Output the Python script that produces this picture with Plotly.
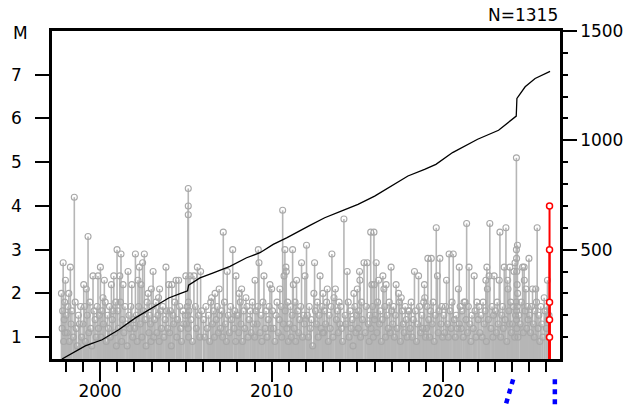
import plotly.graph_objects as go

# ---------------------------------------------------------------- data
# Larger, individually readable events (decimal year, magnitude)
big_year = [
    1997.75, 1997.85, 1997.98, 1998.18, 1998.27, 1998.50, 1999.05, 1999.20, 1999.30, 1999.59,
    1999.88, 2000.02, 2000.17, 2000.25, 2000.66, 2000.80, 2000.99, 2001.15, 2001.22, 2001.34,
    2001.63, 2001.85, 2002.06, 2002.21, 2002.29, 2002.39, 2002.48, 2002.58, 2002.80, 2002.99,
    2003.09, 2003.41, 2003.47, 2003.84, 2004.00, 2004.19, 2004.43, 2004.58, 2005.00, 2005.14,
    2005.14, 2005.14, 2005.24, 2005.47, 2005.67, 2005.86, 2006.50, 2006.70, 2006.94, 2007.18,
    2007.41, 2007.73, 2007.92, 2008.11, 2008.25, 2008.50, 2009.03, 2009.22, 2009.26, 2009.55,
    2009.90, 2010.00, 2010.48, 2010.64, 2010.72, 2010.77, 2010.83, 2010.85, 2011.22, 2011.26,
    2011.45, 2011.74, 2011.94, 2012.03, 2012.46, 2012.50, 2012.82, 2012.99, 2013.24, 2013.51,
    2013.63, 2013.71, 2014.21, 2014.40, 2014.79, 2014.99, 2015.12, 2015.14, 2015.38, 2015.57,
    2015.77, 2015.84, 2015.96, 2015.98, 2016.09, 2016.23, 2016.48, 2016.54, 2016.67, 2016.96,
    2017.25, 2017.39, 2017.55, 2018.32, 2018.56, 2018.90, 2018.92, 2019.10, 2019.30, 2019.59,
    2019.66, 2019.80, 2020.19, 2020.34, 2020.58, 2020.88, 2020.93, 2021.27, 2021.36, 2021.50,
    2021.80, 2022.48, 2022.54, 2022.57, 2022.67, 2022.71, 2022.96, 2023.26, 2023.30, 2023.55,
    2023.65, 2023.75, 2023.77, 2023.88, 2024.12, 2024.18, 2024.26, 2024.26, 2024.27, 2024.28,
    2024.30, 2024.32, 2024.33, 2024.62, 2024.71, 2024.72, 2024.81, 2024.99, 2025.20, 2025.39,
    2025.47, 2025.88, 2026.07,
]
big_mag = [
    2.0, 2.7, 2.3, 2.0, 2.6, 4.2, 2.2, 2.1, 3.3, 2.4,
    2.4, 2.6, 1.9, 2.3, 2.2, 2.4, 3.0, 2.4, 2.9, 2.2,
    2.5, 2.2, 2.9, 2.3, 2.6, 2.2, 2.7, 2.9, 2.0, 2.1,
    2.5, 1.9, 2.1, 2.6, 2.2, 2.2, 2.3, 2.3, 2.4, 4.4,
    4.0, 3.8, 2.4, 2.4, 2.6, 2.5, 1.9, 2.0, 2.1, 3.4,
    2.5, 3.0, 2.4, 2.0, 2.1, 1.9, 2.3, 3.0, 2.7, 2.4,
    2.2, 2.1, 2.1, 3.9, 2.4, 3.0, 2.6, 2.5, 3.0, 2.2,
    2.3, 2.7, 2.4, 3.1, 2.0, 2.7, 2.4, 2.0, 2.1, 2.9,
    1.9, 2.1, 3.7, 2.5, 2.0, 2.1, 2.5, 2.3, 2.7, 2.7,
    3.4, 2.2, 3.4, 2.2, 2.7, 2.3, 2.4, 2.1, 2.2, 2.6,
    2.2, 2.0, 1.9, 2.5, 2.4, 2.2, 1.9, 2.8, 2.8, 3.5,
    2.4, 2.8, 2.3, 2.9, 2.9, 2.1, 2.6, 1.8, 3.6, 2.6,
    2.4, 2.3, 2.6, 2.1, 2.4, 3.6, 2.4, 2.3, 3.4, 2.6,
    3.5, 2.3, 2.1, 2.6, 2.5, 2.7, 5.1, 3.0, 2.8, 2.5,
    2.2, 3.1, 2.0, 2.6, 2.6, 2.3, 2.1, 2.8, 2.1, 2.1,
    3.5, 1.9, 2.3,
]

# Smaller background events
small_year = [
    1997.79, 1997.82, 1997.88, 1997.91, 1997.94, 1997.96,
    1998.02, 1998.08, 1998.13, 1998.21, 1998.31, 1998.36, 1998.44, 1998.55, 1998.61, 1998.67, 1998.74, 1998.80, 1998.87, 1998.93,
    1999.01, 1999.10, 1999.14, 1999.25, 1999.34, 1999.41, 1999.46, 1999.52, 1999.65, 1999.71, 1999.77, 1999.83, 1999.91, 1999.96,
    2000.06, 2000.11, 2000.20, 2000.30, 2000.36, 2000.43, 2000.49, 2000.55, 2000.60, 2000.71, 2000.76, 2000.86, 2000.91, 2000.95,
    2001.03, 2001.07, 2001.19, 2001.26, 2001.30, 2001.39, 2001.45, 2001.52, 2001.58, 2001.69, 2001.73, 2001.79, 2001.90, 2001.95,
    2002.01, 2002.12, 2002.16, 2002.25, 2002.34, 2002.44, 2002.52, 2002.63, 2002.68, 2002.74, 2002.85, 2002.89, 2002.94, 2002.97,
    2003.03, 2003.13, 2003.18, 2003.26, 2003.31, 2003.37, 2003.45, 2003.53, 2003.58, 2003.66, 2003.72, 2003.79, 2003.88, 2003.94,
    2004.05, 2004.10, 2004.15, 2004.24, 2004.29, 2004.35, 2004.47, 2004.52, 2004.64, 2004.70, 2004.75, 2004.83, 2004.88, 2004.96,
    2005.04, 2005.08, 2005.12, 2005.13, 2005.15, 2005.16, 2005.18, 2005.30, 2005.38, 2005.55, 2005.61, 2005.75, 2005.81, 2005.92,
    2006.03, 2006.09, 2006.17, 2006.24, 2006.32, 2006.39, 2006.45, 2006.55, 2006.61, 2006.66, 2006.77, 2006.83, 2006.89, 2006.97,
    2007.02, 2007.09, 2007.14, 2007.25, 2007.31, 2007.36, 2007.47, 2007.53, 2007.60, 2007.66, 2007.81, 2007.85, 2007.90, 2007.97,
    2008.04, 2008.08, 2008.17, 2008.21, 2008.30, 2008.37, 2008.43, 2008.56, 2008.62, 2008.68, 2008.75, 2008.80, 2008.88, 2008.94,
    2009.01, 2009.09, 2009.15, 2009.20, 2009.32, 2009.38, 2009.43, 2009.49, 2009.62, 2009.67, 2009.73, 2009.80, 2009.85, 2009.95,
    2010.05, 2010.11, 2010.19, 2010.25, 2010.31, 2010.38, 2010.44, 2010.55, 2010.59, 2010.68, 2010.79, 2010.89, 2010.93, 2010.97,
    2011.03, 2011.09, 2011.14, 2011.19, 2011.31, 2011.36, 2011.40, 2011.52, 2011.57, 2011.63, 2011.69, 2011.80, 2011.86, 2011.90,
    2012.08, 2012.14, 2012.19, 2012.25, 2012.31, 2012.39, 2012.55, 2012.60, 2012.66, 2012.71, 2012.76, 2012.88, 2012.93, 2012.96,
    2013.03, 2013.08, 2013.14, 2013.20, 2013.30, 2013.35, 2013.41, 2013.46, 2013.57, 2013.77, 2013.83, 2013.88, 2013.93, 2013.97,
    2014.02, 2014.07, 2014.13, 2014.28, 2014.33, 2014.46, 2014.51, 2014.57, 2014.63, 2014.69, 2014.74, 2014.85, 2014.91, 2014.95,
    2015.04, 2015.08, 2015.18, 2015.24, 2015.29, 2015.45, 2015.50, 2015.63, 2015.68, 2015.72, 2015.79, 2015.88, 2015.92, 2015.99,
    2016.03, 2016.13, 2016.17, 2016.28, 2016.33, 2016.39, 2016.44, 2016.59, 2016.63, 2016.73, 2016.79, 2016.85, 2016.90, 2016.99,
    2017.05, 2017.10, 2017.15, 2017.21, 2017.31, 2017.45, 2017.50, 2017.61, 2017.66, 2017.72, 2017.78, 2017.84, 2017.89, 2017.95,
    2018.02, 2018.07, 2018.13, 2018.19, 2018.25, 2018.38, 2018.44, 2018.50, 2018.62, 2018.68, 2018.75, 2018.81, 2018.86, 2018.96,
    2019.02, 2019.05, 2019.15, 2019.20, 2019.25, 2019.35, 2019.41, 2019.47, 2019.53, 2019.70, 2019.75, 2019.86, 2019.91, 2019.96,
    2020.03, 2020.08, 2020.13, 2020.25, 2020.29, 2020.40, 2020.45, 2020.51, 2020.64, 2020.70, 2020.75, 2020.82, 2020.93, 2020.98,
    2021.04, 2021.09, 2021.16, 2021.21, 2021.32, 2021.41, 2021.46, 2021.55, 2021.61, 2021.67, 2021.74, 2021.85, 2021.90, 2021.96,
    2022.03, 2022.08, 2022.13, 2022.20, 2022.26, 2022.32, 2022.38, 2022.44, 2022.51, 2022.62, 2022.78, 2022.84, 2022.89, 2022.93,
    2023.04, 2023.09, 2023.14, 2023.20, 2023.35, 2023.40, 2023.45, 2023.50, 2023.60, 2023.70, 2023.82, 2023.85, 2023.93, 2023.97,
    2024.03, 2024.07, 2024.16, 2024.21, 2024.255, 2024.265, 2024.275, 2024.29, 2024.31, 2024.35, 2024.40, 2024.48, 2024.55, 2024.66,
    2024.77, 2024.86, 2024.90, 2024.94,
    2025.03, 2025.08, 2025.14, 2025.25, 2025.30, 2025.34, 2025.43, 2025.52, 2025.57, 2025.62, 2025.68, 2025.75, 2025.80, 2025.93,
    2026.01, 2026.04, 2026.10, 2026.13, 2026.16,
]
small_mag = [
    1.2, 1.6, 0.9, 1.4, 1.8, 1.1,
    1.5, 1.1, 1.7, 0.9, 1.3, 1.6, 1.0, 1.8, 1.2, 0.8, 1.5, 1.3, 1.7, 1.0,
    1.3, 1.7, 0.9, 1.5, 1.1, 1.8, 1.2, 0.8, 1.6, 1.4, 1.0, 1.7, 1.2, 1.5,
    1.0, 1.6, 1.3, 1.8, 0.9, 1.5, 1.2, 1.7, 1.0, 1.4, 1.6, 1.1, 1.8, 0.8,
    1.6, 1.2, 1.8, 0.9, 1.4, 1.1, 1.7, 1.3, 0.8, 1.5, 1.2, 1.7, 1.0, 1.4,
    1.2, 1.5, 0.9, 1.7, 1.3, 1.0, 1.6, 1.4, 0.8, 1.8, 1.1, 1.5, 1.3, 0.9,
    1.7, 1.0, 1.4, 1.8, 1.1, 1.5, 0.9, 1.6, 1.2, 1.7, 1.0, 1.4, 1.6, 1.2,
    1.1, 1.6, 0.8, 1.5, 1.3, 1.8, 1.0, 1.4, 1.7, 1.2, 0.9, 1.6, 1.3, 1.5,
    1.3, 1.7, 1.5, 1.2, 1.8, 1.0, 1.6, 1.4, 0.9, 1.7, 1.2, 1.5, 1.0, 1.6,
    1.4, 1.0, 1.7, 1.2, 1.5, 0.9, 1.8, 1.3, 1.6, 1.0, 1.4, 1.7, 1.1, 1.5,
    1.2, 1.6, 1.0, 1.8, 1.3, 0.9, 1.5, 1.1, 1.7, 1.4, 1.2, 1.6, 0.9, 1.5,
    1.5, 1.1, 1.8, 1.3, 0.9, 1.6, 1.2, 1.7, 1.0, 1.4, 1.6, 1.1, 1.8, 1.3,
    1.0, 1.6, 1.3, 1.7, 1.1, 1.5, 0.9, 1.8, 1.2, 1.6, 1.0, 1.4, 1.7, 1.2,
    1.6, 1.2, 0.9, 1.5, 1.8, 1.1, 1.4, 1.7, 1.0, 1.3, 1.6, 1.2, 1.8, 0.9,
    1.3, 1.7, 1.0, 1.5, 1.2, 1.8, 0.9, 1.6, 1.1, 1.4, 1.7, 1.0, 1.5, 1.3,
    1.5, 1.0, 1.7, 1.2, 1.4, 0.8, 1.6, 1.3, 1.8, 1.0, 1.5, 1.2, 1.7, 1.1,
    1.1, 1.6, 1.3, 1.8, 0.9, 1.5, 1.2, 1.7, 1.0, 1.4, 1.6, 1.1, 1.8, 1.3,
    1.7, 1.2, 0.9, 1.5, 1.3, 1.8, 1.0, 1.6, 1.2, 1.4, 0.8, 1.7, 1.1, 1.5,
    1.2, 1.6, 1.0, 1.8, 1.4, 1.1, 1.7, 1.3, 0.9, 1.5, 1.2, 1.7, 1.0, 1.4,
    1.5, 1.1, 1.8, 1.3, 1.6, 0.9, 1.4, 1.7, 1.0, 1.5, 1.2, 1.8, 1.1, 1.6,
    1.3, 1.7, 1.0, 1.5, 1.2, 1.8, 0.9, 1.6, 1.3, 1.1, 1.7, 1.4, 1.0, 1.6,
    1.6, 1.2, 1.8, 1.0, 1.4, 1.6, 0.9, 1.3, 1.7, 1.1, 1.5, 1.2, 1.8, 1.0,
    1.2, 1.7, 1.4, 1.0, 1.6, 1.3, 1.8, 0.9, 1.5, 1.1, 1.6, 1.3, 1.7, 1.0,
    1.5, 1.1, 1.7, 1.3, 1.0, 1.6, 1.2, 1.8, 1.4, 1.0, 1.5, 1.2, 1.3, 1.7,
    1.2, 1.6, 1.0, 1.8, 1.4, 1.1, 1.7, 1.3, 0.9, 1.5, 1.2, 1.6, 1.0, 1.8,
    1.4, 1.7, 1.1, 1.5, 1.0, 1.8, 1.3, 1.6, 0.9, 1.4, 1.2, 1.7, 1.0, 1.5,
    1.6, 1.1, 1.8, 1.3, 1.0, 1.5, 1.7, 1.2, 1.4, 0.9, 1.6, 1.3, 1.8, 1.1,
    1.3, 1.7, 1.0, 1.5, 1.8, 1.4, 1.6, 1.2, 1.7, 1.0, 1.5, 1.3, 1.8, 1.1,
    1.6, 1.2, 1.7, 1.4,
    1.5, 1.1, 1.7, 1.3, 1.0, 1.6, 1.8, 1.2, 1.5, 0.9, 1.7, 1.3, 1.0, 1.6,
    1.2, 1.7, 1.4, 1.0, 1.5,
]

# Most recent events (highlighted)
recent_year = [2026.19, 2026.19, 2026.19, 2026.19, 2026.19]
recent_mag = [4.0, 3.0, 1.8, 1.4, 1.0]

# Cumulative number of events
cum_year = [
    1997.78, 1999.14, 2000.12, 2001.09, 2002.06, 2003.03, 2004.00, 2004.70, 2005.10, 2005.16,
    2005.82, 2006.60, 2007.57, 2008.54, 2009.32, 2010.09, 2010.87, 2012.23, 2013.09, 2014.05,
    2015.03, 2016.00, 2016.97, 2017.94, 2018.91, 2019.57, 2020.54, 2021.50, 2022.00, 2023.22,
    2023.80, 2024.25, 2024.29, 2024.77, 2025.35, 2026.22,
]
cum_n = [
    0, 60, 88, 134, 188, 233, 279, 300, 312, 338,
    371, 394, 424, 463, 486, 524, 554, 611, 646, 676,
    707, 745, 791, 837, 867, 890, 944, 982, 1005, 1046,
    1084, 1111, 1192, 1245, 1283, 1315,
]

m_ticks = [1, 2, 3, 4, 5, 6, 7]
n_ticks = [500, 1000, 1500]
n_minor = [100, 200, 300, 400, 600, 700, 800, 900, 1100, 1200, 1300, 1400]

# ---------------------------------------------------------------- styling
FONT = "DejaVu Sans"
M_RANGE = [0.5, 8.0]
N_RANGE = [0, 1500]
YEAR_RANGE = [1997.2, 2026.8]
GREY_STEM = "#b6b6b6"
GREY_RING = "#a8a8a8"


def stems(years, mags, base):
    xs, ys = [], []
    for t, m in zip(years, mags):
        xs += [t, t, None]
        ys += [base, m, None]
    return xs, ys


all_year = small_year + big_year
all_mag = small_mag + big_mag

fig = go.Figure()

sx, sy = stems(all_year, all_mag, M_RANGE[0])
fig.add_trace(go.Scatter(x=sx, y=sy, mode="lines",
                         line=dict(color=GREY_STEM, width=1.6),
                         hoverinfo="skip", showlegend=False))
fig.add_trace(go.Scatter(x=all_year, y=all_mag, mode="markers",
                         marker=dict(symbol="circle-open", size=6, color=GREY_RING,
                                     line=dict(width=1.1)),
                         showlegend=False))

rx, ry = stems(recent_year, recent_mag, M_RANGE[0])
fig.add_trace(go.Scatter(x=rx, y=ry, mode="lines",
                         line=dict(color="#ff0000", width=2),
                         hoverinfo="skip", showlegend=False))
fig.add_trace(go.Scatter(x=recent_year, y=recent_mag, mode="markers",
                         marker=dict(symbol="circle", size=6, color="white",
                                     line=dict(color="#ff0000", width=1.5)),
                         showlegend=False))

fig.add_trace(go.Scatter(x=cum_year, y=cum_n, mode="lines", yaxis="y2",
                         line=dict(color="black", width=1.3),
                         showlegend=False))

fig.update_layout(
    width=643, height=406,
    margin=dict(l=52, r=83, t=31, b=47),
    paper_bgcolor="white", plot_bgcolor="white",
    font=dict(family=FONT, size=17, color="black"),
    xaxis=dict(
        range=YEAR_RANGE, showgrid=False, zeroline=False, automargin=False,
        showline=True, linecolor="black", linewidth=2.5, mirror=True,
        ticks="outside", tick0=2000, dtick=10, ticklen=20, tickwidth=1.5,
        tickcolor="black", ticklabelstandoff=-5,
        minor=dict(dtick=1, tick0=2000, ticks="outside", ticklen=10,
                   tickwidth=1.5, tickcolor="black"),
    ),
    yaxis=dict(
        range=M_RANGE, showgrid=False, zeroline=False, automargin=False,
        showline=True, linecolor="black", linewidth=2.5, mirror=True,
        tickmode="array", tickvals=m_ticks, ticks="outside", ticklen=14,
        tickwidth=1.5, tickcolor="black", ticklabelstandoff=10,
    ),
    yaxis2=dict(
        range=N_RANGE, overlaying="y", side="right", automargin=False,
        showgrid=False, zeroline=False,
        showline=True, linecolor="black", linewidth=2.5,
        tickmode="array", tickvals=n_ticks, ticks="outside", ticklen=14,
        tickwidth=1.5, tickcolor="black", ticklabelstandoff=0,
        minor=dict(tickmode="array", tickvals=n_minor, ticks="outside",
                   ticklen=5, tickwidth=1.5, tickcolor="black"),
    ),
    annotations=[
        dict(text="M", xref="paper", yref="paper", x=0, y=1,
             xanchor="center", yanchor="middle", xshift=-32, yshift=-2,
             showarrow=False, font=dict(family=FONT, size=17)),
        dict(text=f"N={cum_n[-1]}", xref="paper", yref="paper", x=1, y=1,
             xanchor="right", yanchor="bottom", yshift=4,
             showarrow=False, font=dict(family=FONT, size=17)),
    ],
    shapes=[
        dict(type="line", xref="x", yref="paper", x0=2024.07, y0=-0.062,
             x1=2023.58, y1=-0.15, line=dict(color="#0000ff", width=4.5, dash="5px,5px")),
        dict(type="line", xref="x", yref="paper", x0=2026.5, y0=-0.062,
             x1=2026.5, y1=-0.15, line=dict(color="#0000ff", width=4.5, dash="5px,5px")),
    ],
)

fig.write_html("out.html")
